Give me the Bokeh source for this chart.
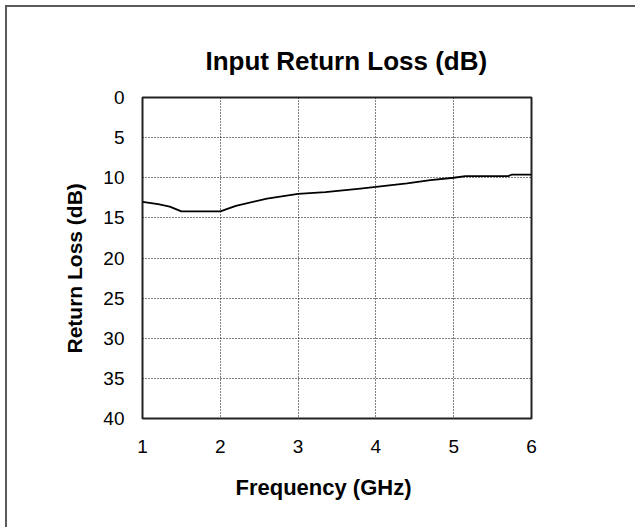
from bokeh.plotting import figure
from bokeh.models import Range1d, FixedTicker, Title
from bokeh.embed import file_html
from bokeh.resources import INLINE

# Data
freq_ghz = [1.0, 1.2, 1.35, 1.5, 2.0, 2.2, 2.6, 3.0, 3.35, 3.8, 4.0, 4.4, 4.7, 5.0, 5.15, 5.7, 5.75, 6.0]
return_loss_db = [13.0, 13.3, 13.6, 14.2, 14.2, 13.5, 12.6, 12.0, 11.8, 11.35, 11.15, 10.7, 10.3, 10.0, 9.8, 9.8, 9.6, 9.6]
x_ticks = [1, 2, 3, 4, 5, 6]
y_ticks = [0, 5, 10, 15, 20, 25, 30, 35, 40]

FONT = "Liberation Sans"

p = figure(width=630, height=522, output_backend="svg", toolbar_location=None,
           x_range=Range1d(1, 6), y_range=Range1d(40, 0),
           min_border_left=135, min_border_right=106,
           min_border_top=90, min_border_bottom=111)

# grey frame lines on the top and left of the original image
p.styles = {"border-top": "2px solid #5a5a5a", "border-left": "2px solid #5a5a5a",
            "margin-left": "5px", "margin-top": "5px"}

p.title.text = "Input Return Loss (dB)"
p.title.text_font = FONT
p.title.text_font_size = "26px"
p.title.text_font_style = "bold"
p.title.align = "left"
p.title.offset = 63
p.title.text_color = "black"
p.title.standoff = 44

p.background_fill_color = "white"
p.border_fill_color = "white"
p.outline_line_color = "#222222"
p.outline_line_width = 2
p.outline_line_alpha = 1.0

for ax in (p.xaxis[0], p.yaxis[0]):
    ax.axis_line_color = None
    ax.major_tick_line_color = None
    ax.minor_tick_line_color = None
    ax.major_tick_in = 0
    ax.major_tick_out = 0
    ax.major_label_text_font = FONT
    ax.major_label_text_font_size = "19px"
    ax.major_label_text_color = "black"

p.xaxis.ticker = FixedTicker(ticks=x_ticks)
p.yaxis.ticker = FixedTicker(ticks=y_ticks)
p.xaxis.major_label_standoff = 21
p.yaxis.major_label_standoff = 18

p.add_layout(Title(text="Frequency (GHz)", text_font=FONT, text_font_size="22px",
                   text_font_style="bold", text_color="black",
                   align="left", offset=93, vertical_align="top", standoff=38), "below")
p.add_layout(Title(text="Return Loss (dB)", text_font=FONT, text_font_size="21px",
                   text_font_style="bold", text_color="black",
                   align="left", offset=65, standoff=30), "left")

p.xgrid.grid_line_color = "black"
p.ygrid.grid_line_color = "black"
p.xgrid.grid_line_dash = "1 2"
p.ygrid.grid_line_dash = "1 2"
p.xgrid.grid_line_width = 1
p.ygrid.grid_line_width = 1

p.line(freq_ghz, return_loss_db, line_color="black", line_width=1.8)

open("out.html", "w").write(file_html(p, INLINE))
